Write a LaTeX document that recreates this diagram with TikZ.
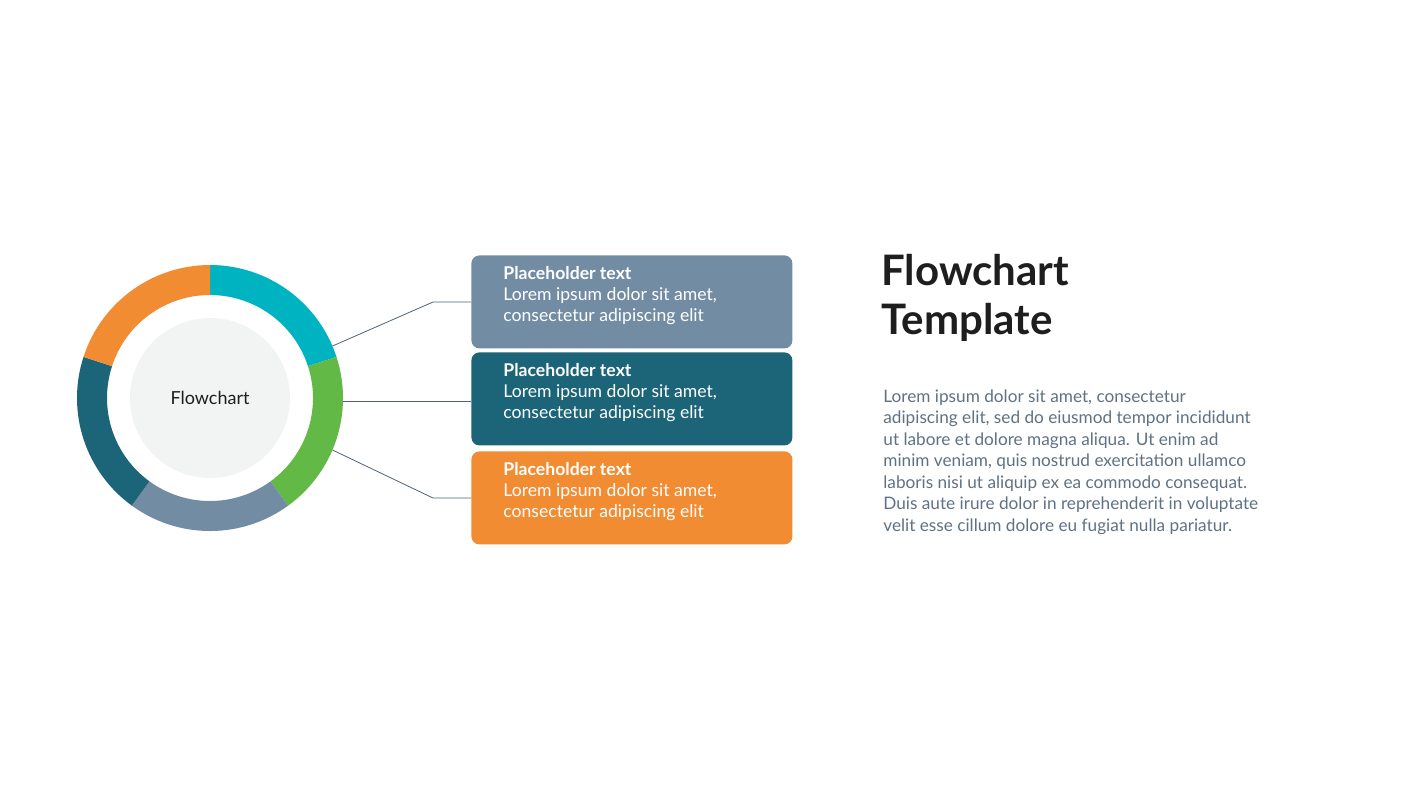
\documentclass[tikz,border=0pt]{standalone}
\usepackage{fontspec}
\setmainfont{Lato}
\usetikzlibrary{calc}
\definecolor{cteal}{HTML}{00B3C1}
\definecolor{cgreen}{HTML}{62B946}
\definecolor{cgray}{HTML}{728DA3}
\definecolor{cdark}{HTML}{1C6478}
\definecolor{corange}{HTML}{F28C33}
\definecolor{cinner}{HTML}{F2F4F4}
\definecolor{ctext}{HTML}{5F7285}
\definecolor{chead}{HTML}{1E1E1E}
\definecolor{cline}{HTML}{4F6478}
\begin{document}
\begin{tikzpicture}[x=0.5pt,y=-0.5pt,
  card/.style={rounded corners=4pt,minimum width=160.5pt,minimum height=46.5pt,anchor=north west,inner sep=0pt},
  cardtxt/.style={anchor=north west,text=white,align=left,font=\fontsize{8.8}{10.6}\selectfont,inner sep=0pt},
  conn/.style={draw=cline,line width=0.4pt}]
\useasboundingbox (0,0) rectangle (1422,800);
\fill[white] (0,0) rectangle (1422,800);
% ring
\def\ro{133}\def\ri{103}
\foreach \a/\b/\c in {-90/-18/cteal,-18/54/cgreen,54/126/cgray,126/198/cdark,198/270/corange}{
  \fill[\c] ($(210,398)+(\a:\ro)$) arc[start angle=\a,end angle=\b,radius=\ro] -- ($(210,398)+(\b:\ri)$) arc[start angle=\b,end angle=\a,radius=\ri] -- cycle;}
\node[circle,fill=cinner,minimum size=80pt,inner sep=0pt] (core) at (210,398) {};
\node[font=\fontsize{9}{11}\selectfont,text=chead] (corelbl) at (210,398) {Flowchart};
% cards
\node[card,fill=cgray] (b1) at (471,255) {};
\node[card,fill=cdark] (b2) at (471,352) {};
\node[card,fill=corange] (b3) at (471,451) {};
\foreach \n/\y in {t1/266,t2/363,t3/462}{
 \node[cardtxt] (\n) at (503,\y) {\textbf{Placeholder text}\\Lorem ipsum dolor sit amet,\\consectetur adipiscing elit};}
% connectors
\coordinate (p1) at ($(210,398)+(-23:\ro)$);
\coordinate (p2) at (343,401);
\coordinate (p3) at ($(210,398)+(23:\ro)$);
\draw[conn] (p1) -- (433,302) -- (b1.west |- 0,302);
\draw[conn] (p2) -- (b2.west |- 0,401);
\draw[conn] (p3) -- (433,498) -- (b3.west |- 0,498);
% heading
\node[anchor=north west,align=left,inner sep=0pt,text=chead,font=\bfseries\fontsize{21}{24.5}\selectfont] (head) at (881,254) {Flowchart\\Template};
\node[anchor=north west,align=left,inner sep=0pt,text=ctext,font=\fontsize{8.6}{10.75}\selectfont] (para) at (883,389) {Lorem ipsum dolor sit amet, consectetur\\adipiscing elit, sed do eiusmod tempor incididunt\\ut labore et dolore magna aliqua. Ut enim ad\\minim veniam, quis nostrud exercitation ullamco\\laboris nisi ut aliquip ex ea commodo consequat.\\Duis aute irure dolor in reprehenderit in voluptate\\velit esse cillum dolore eu fugiat nulla pariatur.};
\end{tikzpicture}
\end{document}
